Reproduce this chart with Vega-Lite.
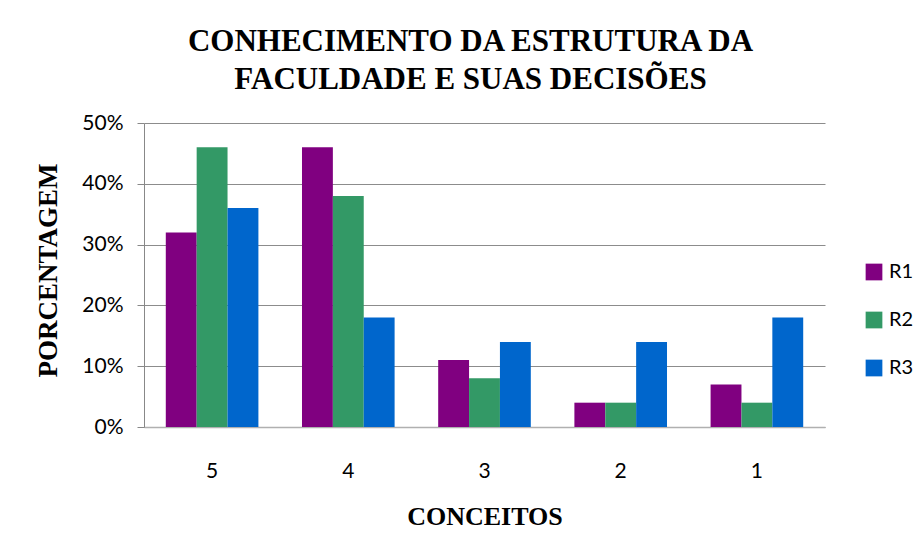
{
  "$schema": "https://vega.github.io/schema/vega-lite/v6.json",
  "width": 681,
  "height": 304,
  "autosize": {"type": "none"},
  "padding": {"left": 144, "top": 123, "right": 89, "bottom": 107},
  "background": "white",
  "title": {
    "text": ["CONHECIMENTO DA ESTRUTURA DA", "FACULDADE E SUAS DECISÕES"],
    "font": "Liberation Serif",
    "fontSize": 31,
    "fontWeight": "bold",
    "lineHeight": 38,
    "color": "black",
    "anchor": "middle",
    "dx": -14,
    "offset": 16
  },
  "data": {
    "values": [
      {"conceito": "5", "serie": "R1", "valor": 0.32},
      {"conceito": "5", "serie": "R2", "valor": 0.46},
      {"conceito": "5", "serie": "R3", "valor": 0.36},
      {"conceito": "4", "serie": "R1", "valor": 0.46},
      {"conceito": "4", "serie": "R2", "valor": 0.38},
      {"conceito": "4", "serie": "R3", "valor": 0.18},
      {"conceito": "3", "serie": "R1", "valor": 0.11},
      {"conceito": "3", "serie": "R2", "valor": 0.08},
      {"conceito": "3", "serie": "R3", "valor": 0.14},
      {"conceito": "2", "serie": "R1", "valor": 0.04},
      {"conceito": "2", "serie": "R2", "valor": 0.04},
      {"conceito": "2", "serie": "R3", "valor": 0.14},
      {"conceito": "1", "serie": "R1", "valor": 0.07},
      {"conceito": "1", "serie": "R2", "valor": 0.04},
      {"conceito": "1", "serie": "R3", "valor": 0.18}
    ]
  },
  "mark": {"type": "bar"},
  "encoding": {
    "x": {
      "field": "conceito",
      "type": "nominal",
      "sort": ["5", "4", "3", "2", "1"],
      "scale": {"paddingInner": 0.32, "paddingOuter": 0.16},
      "axis": {
        "title": "CONCEITOS",
        "titleFont": "Liberation Serif",
        "titleFontSize": 26,
        "titleFontWeight": "bold",
        "titleColor": "black",
        "titlePadding": 22,
        "labelAngle": 0,
        "labelFont": "Lato",
        "labelFontSize": 21,
        "labelColor": "black",
        "labelPadding": 33,
        "ticks": false,
        "domainColor": "#b0b0b0",
        "domainWidth": 1.5,
        "grid": false
      }
    },
    "xOffset": {"field": "serie", "type": "nominal", "scale": {"paddingInner": 0, "paddingOuter": 0}},
    "y": {
      "field": "valor",
      "type": "quantitative",
      "scale": {"domain": [0, 0.5], "nice": false},
      "axis": {
        "title": "PORCENTAGEM",
        "titleFont": "Liberation Serif",
        "titleFontSize": 27,
        "titleFontWeight": "bold",
        "titleColor": "black",
        "titleX": -96,
        "titleY": 147,
        "titleAlign": "center",
        "titleBaseline": "middle",
        "format": ".0%",
        "values": [0, 0.1, 0.2, 0.3, 0.4, 0.5],
        "labelFont": "Lato",
        "labelFontSize": 21,
        "labelColor": "black",
        "labelPadding": 14,
        "tickSize": 7,
        "tickColor": "#888888",
        "domainColor": "#888888",
        "gridColor": "#8c8c8c",
        "gridWidth": 1
      }
    },
    "color": {
      "field": "serie",
      "type": "nominal",
      "scale": {"domain": ["R1", "R2", "R3"], "range": ["#800080", "#339966", "#0066cc"]},
      "legend": {
        "title": null,
        "orient": "none",
        "legendX": 720,
        "legendY": 139,
        "symbolType": "square",
        "symbolSize": 280,
        "symbolStrokeWidth": 0,
        "labelFont": "Lato",
        "labelFontSize": 20,
        "labelColor": "black",
        "labelOffset": 5,
        "rowPadding": 28
      }
    }
  },
  "config": {"view": {"stroke": null}}
}
